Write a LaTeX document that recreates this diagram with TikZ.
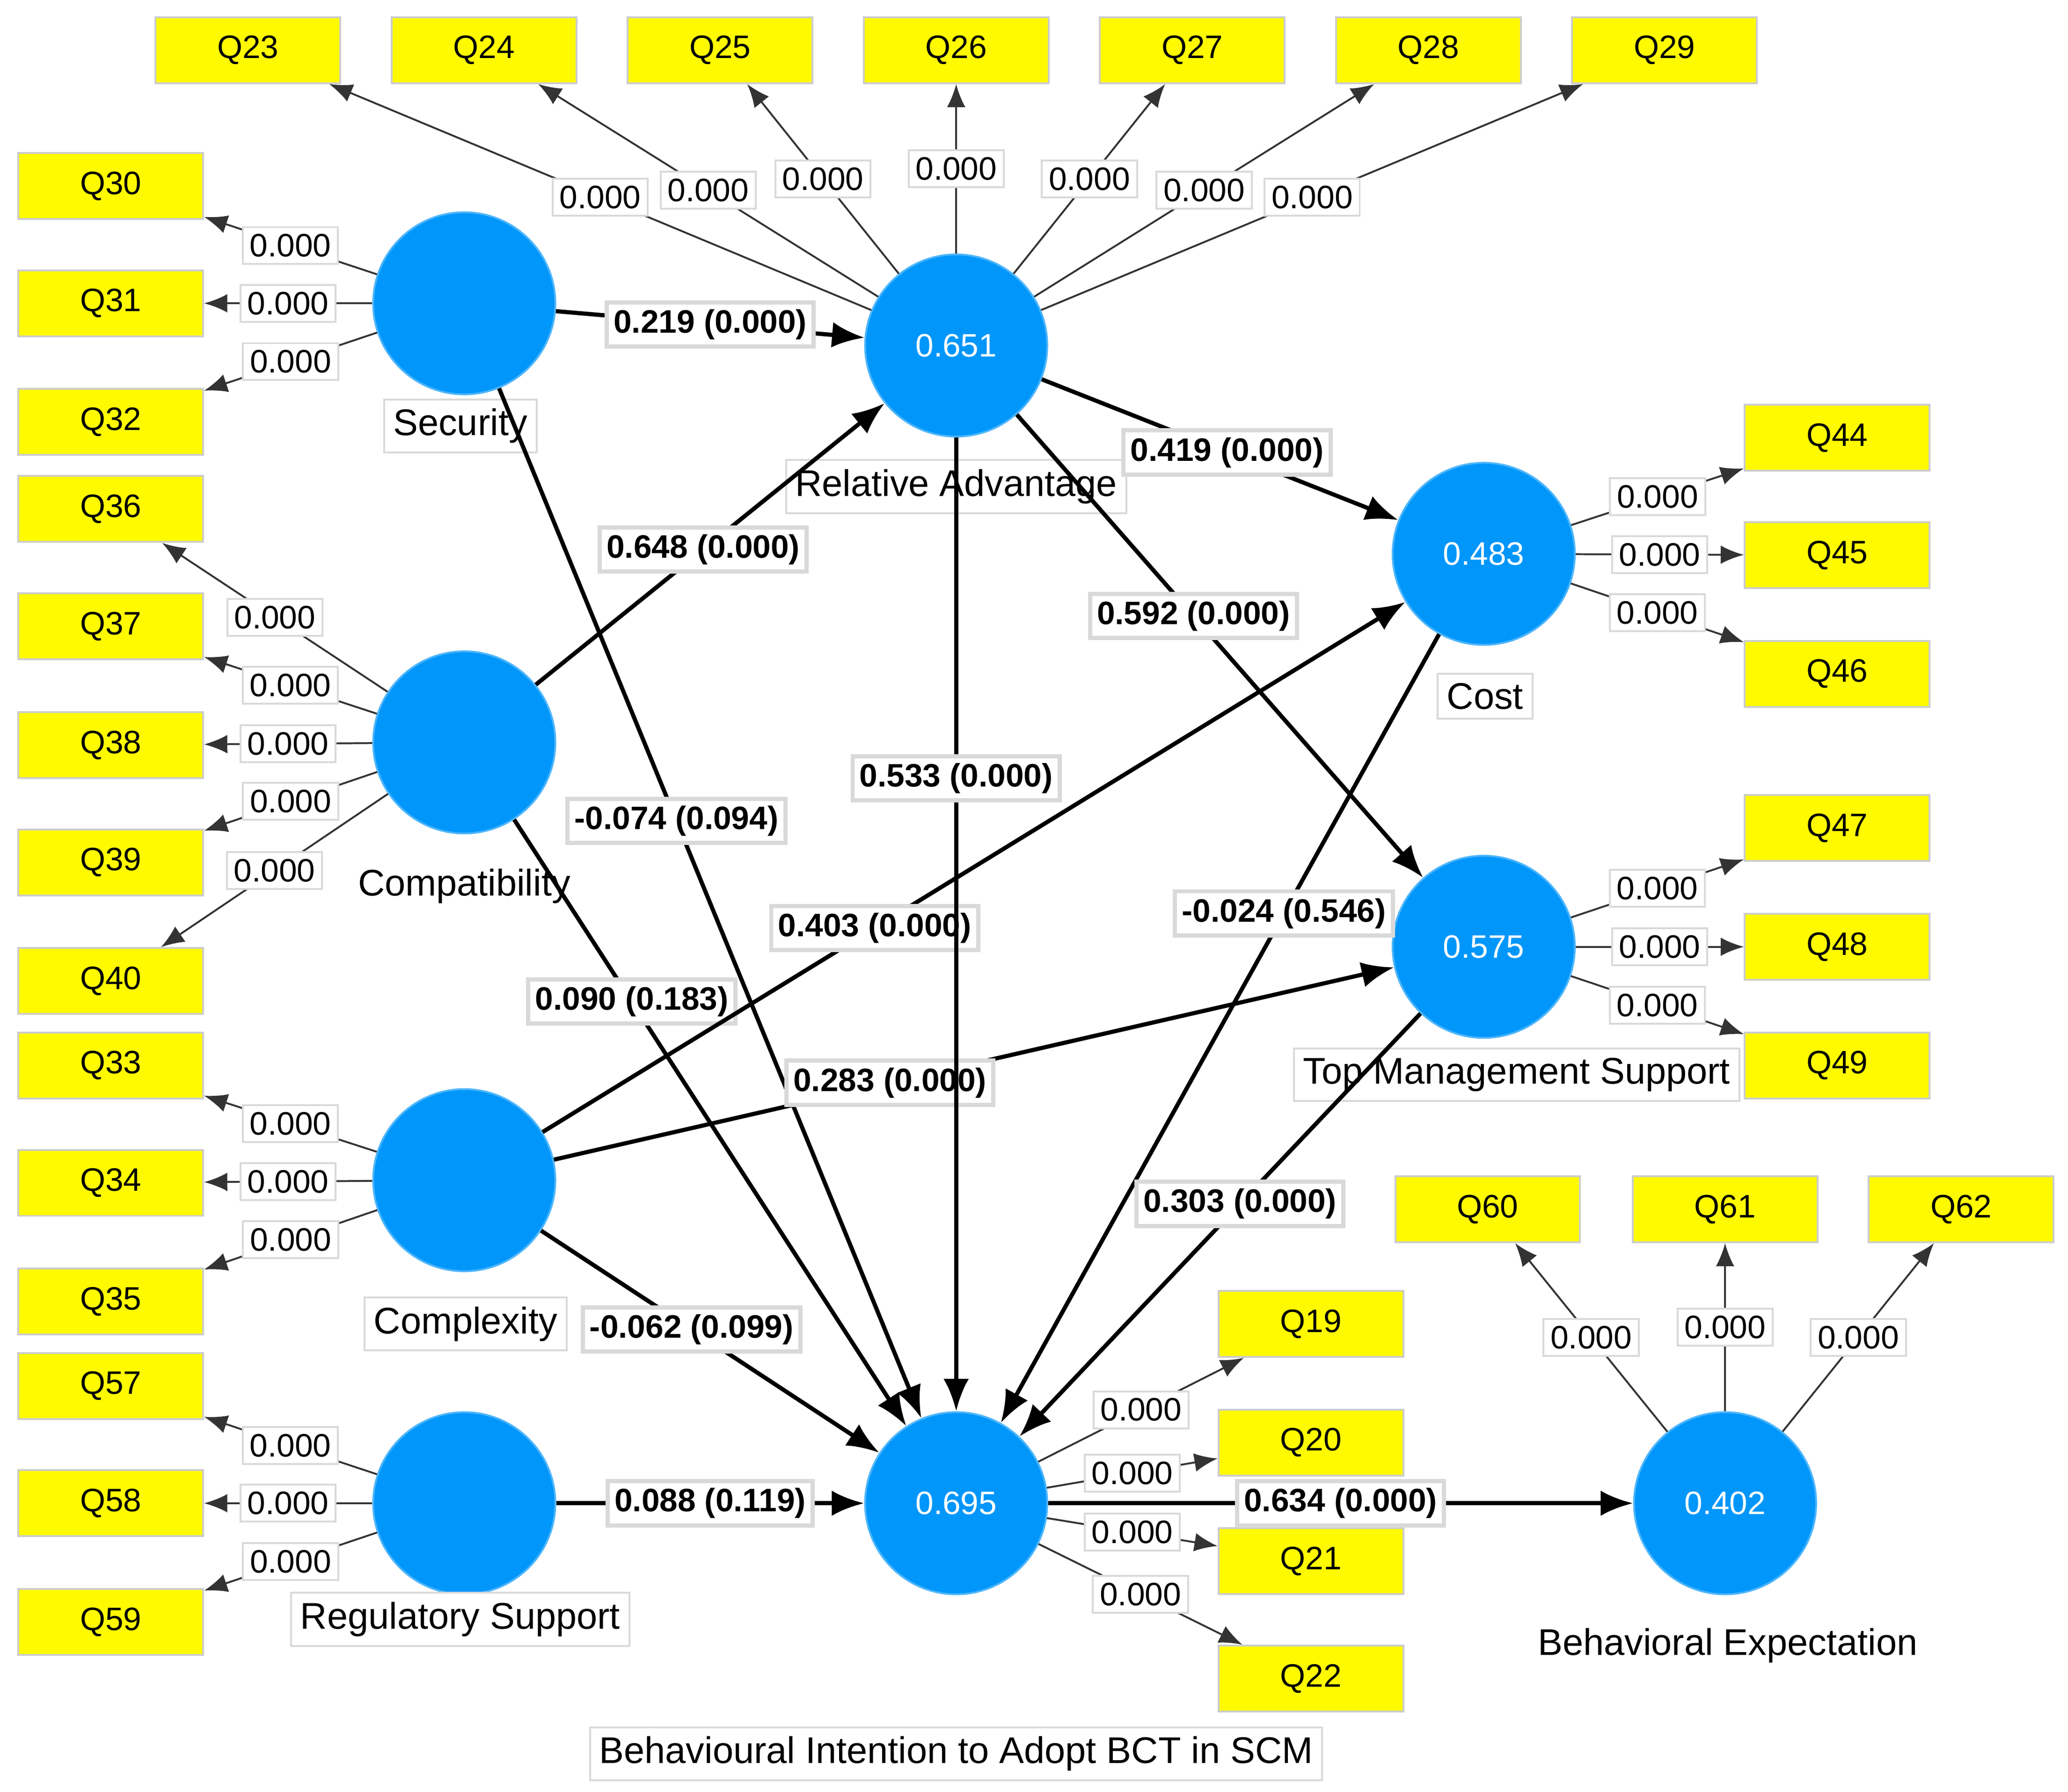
\documentclass[tikz,border=0pt]{standalone}
\usepackage{fontspec}
\setmainfont{Liberation Sans}
\usetikzlibrary{arrows.meta}
\definecolor{lvblue}{RGB}{0,150,250}
\definecolor{indyellow}{RGB}{255,250,0}
\tikzset{
	lv/.style={circle, fill=lvblue, draw=lvblue!70!white, minimum size=1.38cm, inner sep=0pt, text=white, font=\fontsize{7}{8}\selectfont},
	ind/.style={rectangle, fill=indyellow, draw=gray!40, minimum width=1.4cm, minimum height=0.5cm, font=\fontsize{7}{8}\selectfont},
	lvname/.style={fill=white, draw=gray!30, inner sep=2pt, font=\fontsize{8}{9}\selectfont},
	load/.style={draw=black!80, thin, -{Latex[length=5pt,width=4pt]}},
	path/.style={draw=black, line width=0.9pt, -{Latex[length=7pt,width=5.5pt]}},
	lw/.style={fill=white, draw=gray!30, inner sep=1.5pt, font=\fontsize{7}{8}\selectfont},
	pw/.style={fill=white, draw=gray!30, inner sep=1.5pt, font=\bfseries\fontsize{7}{8}\selectfont}
}
\begin{document}
\begin{tikzpicture}[x=0.01cm, y=-0.01cm]
	\useasboundingbox (0,0) rectangle (1568,1359);
	% constructs
	\node[lv] (sec) at (352,230) {};
	\node[lv] (ra) at (725,262) {0.651};
	\node[lv] (comp) at (352,563) {};
	\node[lv] (cplx) at (352,895) {};
	\node[lv] (reg) at (352,1140) {};
	\node[lv] (bi) at (725,1140) {0.695};
	\node[lv] (cost) at (1125,420) {0.483};
	\node[lv] (tms) at (1125,718) {0.575};
	\node[lv] (be) at (1308,1140) {0.402};
	\node[lvname] at (349,323) {Security};
	\node[lvname] at (725,369) {Relative Advantage};
	\node[font=\fontsize{8}{9}\selectfont] at (352,672) {Compatibility};
	\node[lvname] at (1126,528) {Cost};
	\node[lvname] at (1150,815) {Top Management Support};
	\node[lvname] at (353,1004) {Complexity};
	\node[lvname] at (349,1228) {Regulatory Support};
	\node[font=\fontsize{8}{9}\selectfont] at (1310,1248) {Behavioral Expectation};
	\node[lvname, minimum width=5.5cm] at (725,1330) {Behavioural Intention to Adopt BCT in SCM};
	% indicators
	\node[ind] (q30) at (84,141) {Q30};
	\node[ind] (q31) at (84,230) {Q31};
	\node[ind] (q32) at (84,320) {Q32};
	\node[ind] (q36) at (84,386) {Q36};
	\node[ind] (q37) at (84,475) {Q37};
	\node[ind] (q38) at (84,565) {Q38};
	\node[ind] (q39) at (84,654) {Q39};
	\node[ind] (q40) at (84,744) {Q40};
	\node[ind] (q33) at (84,808) {Q33};
	\node[ind] (q34) at (84,897) {Q34};
	\node[ind] (q35) at (84,987) {Q35};
	\node[ind] (q57) at (84,1051) {Q57};
	\node[ind] (q58) at (84,1140) {Q58};
	\node[ind] (q59) at (84,1230) {Q59};
	\node[ind] (q23) at (188,38) {Q23};
	\node[ind] (q24) at (367,38) {Q24};
	\node[ind] (q25) at (546,38) {Q25};
	\node[ind] (q26) at (725,38) {Q26};
	\node[ind] (q27) at (904,38) {Q27};
	\node[ind] (q28) at (1083,38) {Q28};
	\node[ind] (q29) at (1262,38) {Q29};
	\node[ind] (q44) at (1393,332) {Q44};
	\node[ind] (q45) at (1393,421) {Q45};
	\node[ind] (q46) at (1393,511) {Q46};
	\node[ind] (q47) at (1393,628) {Q47};
	\node[ind] (q48) at (1393,718) {Q48};
	\node[ind] (q49) at (1393,808) {Q49};
	\node[ind] (q60) at (1128,917) {Q60};
	\node[ind] (q61) at (1308,917) {Q61};
	\node[ind] (q62) at (1487,917) {Q62};
	\node[ind] (q19) at (994,1004) {Q19};
	\node[ind] (q20) at (994,1094) {Q20};
	\node[ind] (q21) at (994,1184) {Q21};
	\node[ind] (q22) at (994,1273) {Q22};
	% outer loadings
	\foreach \lv/\q in {sec/q30,sec/q31,sec/q32,comp/q36,comp/q37,comp/q38,comp/q39,comp/q40,
		cplx/q33,cplx/q34,cplx/q35,reg/q57,reg/q58,reg/q59,ra/q23,ra/q24,ra/q25,ra/q26,ra/q27,ra/q28,ra/q29,
		cost/q44,cost/q45,cost/q46,tms/q47,tms/q48,tms/q49,be/q60,be/q61,be/q62,bi/q19,bi/q20,bi/q21,bi/q22}
		\draw[load] (\lv) -- node[lw] {0.000} (\q);
	% inner model
	\draw[path] (sec) -- node[pw, pos=0.5] {0.219 (0.000)} (ra);
	\draw[path] (comp) -- node[pw, pos=0.48] {0.648 (0.000)} (ra);
	\draw[path] (sec) -- node[pw, pos=0.42] {-0.074 (0.094)} (bi);
	\draw[path] (comp) -- node[pw, pos=0.30] {0.090 (0.183)} (bi);
	\draw[path] (cplx) -- node[pw, pos=0.385] {0.403 (0.000)} (cost);
	\draw[path] (cplx) -- node[pw, pos=0.40] {0.283 (0.000)} (tms);
	\draw[path] (cplx) -- node[pw, pos=0.445] {-0.062 (0.099)} (bi);
	\draw[path] (reg) -- node[pw, pos=0.5] {0.088 (0.119)} (bi);
	\draw[path] (ra) -- node[pw, pos=0.35] {0.533 (0.000)} (bi);
	\draw[path] (ra) -- node[pw, pos=0.52] {0.419 (0.000)} (cost);
	\draw[path] (ra) -- node[pw, pos=0.435] {0.592 (0.000)} (tms);
	\draw[path] (cost) -- node[pw, pos=0.354] {-0.024 (0.546)} (bi);
	\draw[path] (tms) -- node[pw, pos=0.45] {0.303 (0.000)} (bi);
	\draw[path] (bi) -- node[pw, pos=0.5] {0.634 (0.000)} (be);
\end{tikzpicture}
\end{document}
